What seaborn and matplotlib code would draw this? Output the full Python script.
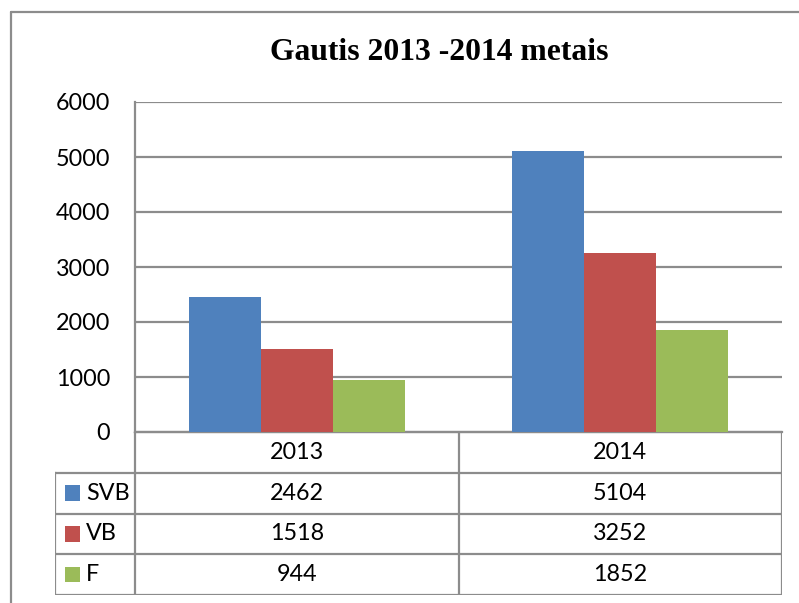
import matplotlib
matplotlib.use("Agg")
import matplotlib.pyplot as plt
import seaborn as sns
import pandas as pd
from matplotlib.lines import Line2D
from matplotlib.patches import Rectangle

# data
years = ["2013", "2014"]
series = ["SVB", "VB", "F"]
svb = [2462, 5104]
vb = [1518, 3252]
f = [944, 1852]
yticks = [0, 1000, 2000, 3000, 4000, 5000, 6000]
title = "Gautis 2013 -2014 metais"

colors = ["#4F81BD", "#C0504D", "#9BBB59"]
GRID = "#8c8c8c"
FS = 16.8

sns.set_style("white")
plt.rcParams["font.family"] = ["Lato", "DejaVu Sans"]
plt.rcParams["text.color"] = "black"
plt.rcParams["ytick.color"] = "black"

df = pd.DataFrame({
    "year": years * 3,
    "series": [s for s in series for _ in years],
    "value": svb + vb + f,
})

W, H = 799, 603
fig = plt.figure(figsize=(W / 100, H / 100), dpi=100)

def px_box(x0, y0, x1, y1):
    return [x0 / W, 1 - y1 / H, (x1 - x0) / W, (y1 - y0) / H]

# main plot area
ax = fig.add_axes(px_box(135, 102, 782, 432))
sns.barplot(data=df, x="year", y="value", hue="series", hue_order=series,
            order=years, palette=colors, saturation=1, width=0.668,
            linewidth=0, legend=False, ax=ax, zorder=3)
ax.set_xlim(-0.5, 1.5)
ax.set_ylim(0, 6000)
ax.set_yticks(yticks)
ax.set_yticklabels([str(t) for t in yticks], fontsize=FS)
ax.tick_params(axis="y", length=0, pad=18)
ax.set_xticks([])
ax.set_xlabel("")
ax.set_ylabel("")
ax.yaxis.grid(True, color=GRID, lw=1.6)
ax.set_axisbelow(True)
for side in ["top", "right"]:
    ax.spines[side].set_visible(False)
ax.spines["left"].set_color(GRID)
ax.spines["left"].set_linewidth(1.6)
ax.spines["bottom"].set_color(GRID)
ax.spines["bottom"].set_linewidth(1.6)

# data table under the plot
lab_w = 80 / 323.5
tax = fig.add_axes(px_box(55, 432, 782, 595))
tax.set_xlim(-0.5 - lab_w, 1.5)
tax.set_ylim(4, 0)
tax.axis("off")
x_left = -0.5 - lab_w
kw = dict(color=GRID, lw=1.6, solid_capstyle="projecting")
tax.plot([-0.5, 1.5], [0, 0], **kw)
for r in range(1, 5):
    tax.plot([x_left, 1.5], [r, r], **kw)
tax.plot([x_left, x_left], [1, 4], **kw)
for xv in [-0.5, 0.5, 1.5]:
    tax.plot([xv, xv], [0, 4], **kw)

for i, yr in enumerate(years):
    tax.text(i, 0.5, yr, ha="center", va="center", fontsize=FS)
for r, (name, vals, c) in enumerate(zip(series, [svb, vb, f], colors), start=1):
    yc = r + 0.5
    tax.add_patch(Rectangle((x_left + 10 / 323.5, yc - 0.19), 15 / 323.5, 0.38,
                            color=c, lw=0))
    tax.text(x_left + 31 / 323.5, yc, name, ha="left", va="center", fontsize=FS)
    for i, v in enumerate(vals):
        tax.text(i, yc, str(v), ha="center", va="center", fontsize=FS)

# title and outer chart frame
fig.text(439 / W, 1 - 52 / H, title, ha="center", va="center",
         fontsize=22.8, fontweight="bold", family="Liberation Serif")
fig.add_artist(Line2D([10.5 / W, 10.5 / W], [0, 1 - 12 / H], color=GRID, lw=1.6))
fig.add_artist(Line2D([10.5 / W, 1], [1 - 12 / H, 1 - 12 / H], color=GRID, lw=1.6))

fig.savefig("out.png", dpi=100)
